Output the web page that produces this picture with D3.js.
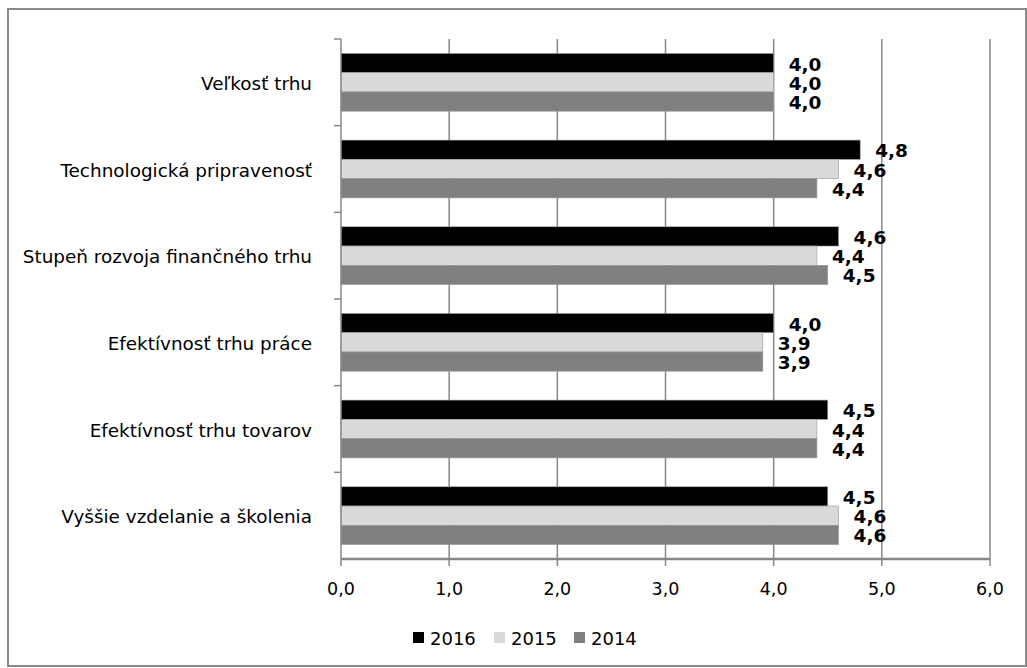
<!DOCTYPE html>
<html><head><meta charset="utf-8">
<script src="https://cdn.jsdelivr.net/npm/d3@7"></script>
<style>
html,body{margin:0;padding:0;background:#fff;}
svg{display:block;font-family:"DejaVu Sans",Verdana,sans-serif;}
</style></head>
<body><svg id="c" width="1027" height="668"></svg>
<script>
const categories = ["Veľkosť trhu","Technologická pripravenosť","Stupeň rozvoja finančného trhu","Efektívnosť trhu práce","Efektívnosť trhu tovarov","Vyššie vzdelanie a školenia"];
const seriesNames = ["2016","2015","2014"];
const values2016 = [4.0,4.8,4.6,4.0,4.5,4.5];
const values2015 = [4.0,4.6,4.4,3.9,4.4,4.6];
const values2014 = [4.0,4.4,4.5,3.9,4.4,4.6];
const xTicks = [0,1,2,3,4,5,6];
const colors = ["#000000","#d9d9d9","#808080"];
const seriesValues = [values2016, values2015, values2014];

const svg = d3.select("#c");
svg.append("rect").attr("x",8).attr("y",9).attr("width",1018).attr("height",657)
  .attr("fill","#fff").attr("stroke","#8a8a8a").attr("stroke-width",2);

const x = d3.scaleLinear().domain([0,6]).range([341,990]);
const y = d3.scaleBand().domain(categories).range([39,559]).padding(0);
const bw = y.bandwidth();
const ys = d3.scaleBand().domain(seriesNames).range([bw/6, bw*5/6]).padding(0);

// gridlines
svg.append("g").selectAll("line").data(xTicks.filter(d=>d>0)).join("line")
  .attr("x1",d=>x(d)).attr("x2",d=>x(d)).attr("y1",39).attr("y2",559)
  .attr("stroke","#888").attr("stroke-width",1.5);

// bars
seriesNames.forEach((s,si)=>{
  const g = svg.append("g");
  g.selectAll("rect").data(categories).join("rect")
    .attr("x",x(0)).attr("y",(c)=>y(c)+ys(s))
    .attr("width",(c,i)=>x(seriesValues[si][i])-x(0))
    .attr("height",ys.bandwidth())
    .attr("fill",colors[si]).attr("stroke","#9a9a9a").attr("stroke-width",0.6);
});

// value labels
seriesNames.forEach((s,si)=>{
  svg.append("g").selectAll("text").data(categories).join("text")
    .attr("x",(c,i)=>x(seriesValues[si][i])+15)
    .attr("y",(c)=>y(c)+ys(s)+ys.bandwidth()/2+1)
    .attr("dominant-baseline","central")
    .attr("font-size",18.5).attr("font-weight","bold").attr("fill","#000")
    .text((c,i)=>d3.format(".1f")(seriesValues[si][i]).replace(".",","));
});

// y axis
const yAxis = svg.append("g");
yAxis.append("line").attr("x1",341).attr("x2",341).attr("y1",39).attr("y2",559)
  .attr("stroke","#888").attr("stroke-width",1.5);
const bounds = categories.map(c=>y(c));
yAxis.selectAll("line.t").data(bounds).join("line").attr("class","t")
  .attr("x1",334).attr("x2",341).attr("y1",d=>d).attr("y2",d=>d)
  .attr("stroke","#888").attr("stroke-width",1.5);
yAxis.selectAll("text").data(categories).join("text")
  .attr("x",312).attr("y",c=>y(c)+bw/2+1).attr("text-anchor","end")
  .attr("dominant-baseline","central").attr("font-size",18.4).attr("fill","#000")
  .text(d=>d);

// x axis
const xAxis = svg.append("g");
xAxis.append("line").attr("x1",341).attr("x2",990).attr("y1",559).attr("y2",559)
  .attr("stroke","#888").attr("stroke-width",2.5);
xAxis.selectAll("line.t").data(xTicks).join("line").attr("class","t")
  .attr("x1",d=>x(d)).attr("x2",d=>x(d)).attr("y1",559).attr("y2",566)
  .attr("stroke","#888").attr("stroke-width",1.5);
xAxis.selectAll("text").data(xTicks).join("text")
  .attr("x",d=>x(d)).attr("y",589).attr("text-anchor","middle")
  .attr("dominant-baseline","central").attr("font-size",17.5).attr("fill","#000")
  .text(d=>d3.format(".1f")(d).replace(".",","));

// legend
const legendX = [413, 494, 574];
const lg = svg.append("g");
seriesNames.forEach((s,i)=>{
  lg.append("rect").attr("x",legendX[i]).attr("y",632).attr("width",11).attr("height",11).attr("fill",colors[i]);
  lg.append("text").attr("x",legendX[i]+17).attr("y",638).attr("dominant-baseline","central")
    .attr("font-size",18).attr("fill","#000").text(s);
});
</script></body></html>
